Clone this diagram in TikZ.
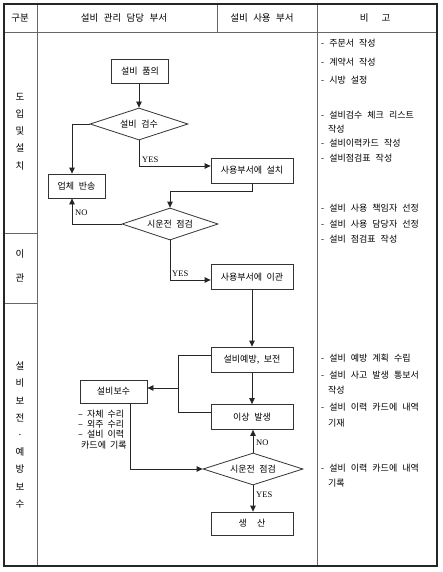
\documentclass[tikz,border=0pt]{standalone}
\usepackage{fontspec}
\setmainfont{Liberation Serif}
\newfontfamily\kr{Noto Sans CJK KR}
\newcommand\hdrfont{\kr\fontsize{9.5}{10}\selectfont\spaceskip 5.5pt\relax}
\newcommand\flowfont{\kr\fontsize{9}{10}\selectfont\spaceskip 4.5pt\relax}
\newcommand\remfont{\kr\fontsize{9}{10}\selectfont\spaceskip 5pt\relax}
\newcommand\notefont{\kr\fontsize{9}{10.3}\selectfont\spaceskip 4pt\relax}
\usetikzlibrary{shapes.geometric,arrows.meta}
\begin{document}
\begin{tikzpicture}[x=1pt,y=-1pt,
  outer/.style={line width=1.6pt,draw=black!85},
  grid/.style={line width=0.6pt,draw=black!60},
  hdr/.style={inner sep=0pt,font=\hdrfont},
  side/.style={inner sep=0pt,align=center,font=\kr\fontsize{9.5}{17.2}\selectfont},
  fbox/.style={draw=black!80,line width=0.8pt,minimum width=82pt,minimum height=25pt,inner sep=1pt,font=\flowfont},
  dia/.style={diamond,draw=black!80,line width=0.8pt,aspect=3,inner sep=0pt,minimum width=98pt,minimum height=32pt,font=\flowfont},
  ln/.style={line width=0.8pt,draw=black!85},
  arr/.style={ln,-{Triangle[length=6pt,width=5.5pt]}},
  lbl/.style={inner sep=0pt,anchor=west,font=\fontsize{8.5}{9}\selectfont},
  rem/.style={inner sep=0pt,anchor=west,font=\remfont},
  note/.style={inner sep=0pt,anchor=north west,align=left,font=\notefont}
]
\useasboundingbox (0,0) rectangle (442,572);
\fill[white] (0,0) rectangle (442,572);
% table
\draw[grid] (4,32) -- (437,32);
\draw[grid] (37,4) -- (37,566);
\draw[grid] (217,4) -- (217,32);
\draw[grid] (317,4) -- (317,566);
\draw[grid] (4,233) -- (37,233);
\draw[grid] (4,303) -- (37,303);
\draw[outer] (4,4) rectangle (437,566);
% header
\node[hdr] (h1) at (20,18) {구분};
\node[hdr] (h2) at (124,18) {설비 관리 담당 부서};
\node[hdr] (h3) at (262,18) {설비 사용 부서};
\node[hdr] (h4) at (375,18) {비\hspace{13pt}고};
% left column
\node[side] (s1) at (20,131.5) {도\\입\\및\\설\\치};
\node[side] (s2) at (20,265.5) {이\\[7pt]관};
\node[side] (s3) at (20,435) {설\\비\\보\\전\\·\\예\\방\\보\\수};
% flow
\node[fbox,minimum width=57pt,minimum height=24pt] (p1) at (140,71) {설비 품의};
\node[dia] (d1) at (139,124) {설비 검수};
\node[fbox,minimum width=57pt,minimum height=24pt] (b1) at (76.5,186) {업체 반송};
\node[fbox] (u1) at (252,170.5) {사용부서에 설치};
\node[dia,minimum width=96pt] (d2) at (170,224) {시운전 점검};
\node[fbox] (u2) at (252,277) {사용부서에 이관};
\node[fbox] (u3) at (252,359.5) {설비예방, 보전};
\node[fbox] (u4) at (252,417) {이상 발생};
\node[fbox,minimum width=67pt,minimum height=23pt] (r1) at (113.5,391.5) {설비보수};
\node[dia,minimum width=100pt] (d3) at (253,469) {시운전 점검};
\node[fbox,minimum height=23pt] (u5) at (252,523.5) {생\hspace{10pt}산};
\node[note] (n1) at (78,409.5) {– 자체 수리\\– 외주 수리\\– 설비 이력\\\hspace{3pt}카드에 기록};
% bend points
\coordinate (k1) at (139,166);
\coordinate (k2) at (170,191);
\coordinate (k3) at (170,280);
\coordinate (k4) at (178,355);
\coordinate (k5) at (178,412);
\coordinate (k6) at (178,388);
\coordinate (k7) at (130,469);
% connectors
\draw[arr] (p1.south -| d1.north) -- (d1.north);
\draw[arr] (d1.west) -| ([xshift=-4.5pt]b1.north);
\draw[arr] (d1.south) -- (k1) -- (k1 -| u1.west);
\draw[arr] (u1.south) |- (k2) -- (d2.north);
\draw[arr] (d2.west) -| ([xshift=-4.5pt]b1.south);
\draw[arr] (d2.south) -- (k3) -- (k3 -| u2.west);
\draw[arr] (u2.south) -- (u3.north);
\draw[arr] (u3.south) -- (u4.north);
\draw[ln] (k4 -| u3.west) -- (k4) -- (k5) -- (k5 -| u4.west);
\draw[arr] (k6) -- (k6 -| r1.east);
\draw[arr] (r1.south -| k7) -- (k7 |- d3.west) -- (d3.west);
\draw[arr] (d3.north) -- (d3.north |- u4.south);
\draw[arr] (d3.south) -- (d3.south |- u5.north);
% labels
\node[lbl] (y1) at (142,160) {YES};
\node[lbl] (no1) at (75,213) {NO};
\node[lbl] (y2) at (172,274) {YES};
\node[lbl] (no2) at (256,443) {NO};
\node[lbl] (y3) at (256,495) {YES};
% remarks
\node[rem] (m1) at (321,43) {- 주문서 작성};
\node[rem] (m2) at (321,62) {- 계약서 작성};
\node[rem] (m3) at (321,80) {- 시방 설정};
\node[rem] (m4) at (321,115) {- 설비검수 체크 리스트};
\node[rem] (m5) at (328,129) {작성};
\node[rem] (m6) at (321,143) {- 설비이력카드 작성};
\node[rem] (m7) at (321,158) {- 설비점검표 작성};
\node[rem] (m8) at (321,208) {- 설비 사용 책임자 선정};
\node[rem] (m9) at (321,224) {- 설비 사용 담당자 선정};
\node[rem] (m10) at (321,239) {- 설비 점검표 작성};
\node[rem] (m11) at (321,358) {- 설비 예방 계획 수립};
\node[rem] (m12) at (321,375) {- 설비 사고 발생 통보서};
\node[rem] (m13) at (328,390) {작성};
\node[rem] (m14) at (321,407) {- 설비 이력 카드에 내역};
\node[rem] (m15) at (328,423) {기재};
\node[rem] (m16) at (321,468) {- 설비 이력 카드에 내역};
\node[rem] (m17) at (328,483) {기록};
\end{tikzpicture}
\end{document}
